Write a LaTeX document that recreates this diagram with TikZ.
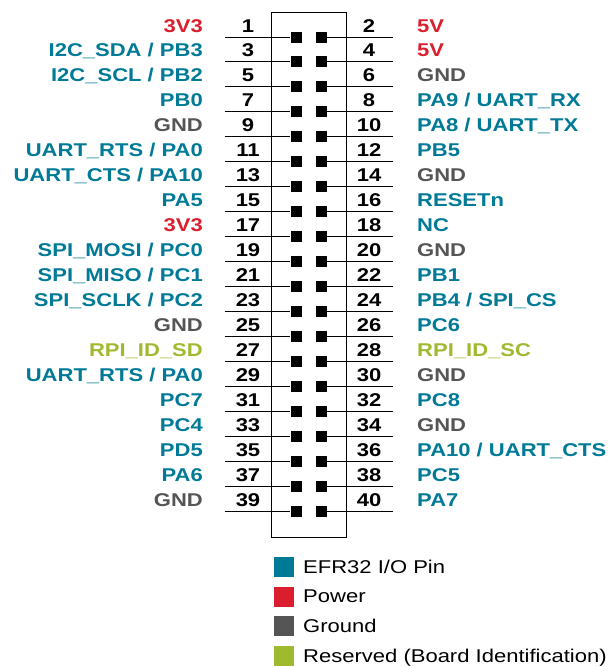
\documentclass[tikz,border=0pt]{standalone}
\usepackage{fontspec}
\setmainfont{Liberation Sans}[FakeStretch=1.19]
\definecolor{io}{RGB}{0,122,150}
\definecolor{pw}{RGB}{218,30,45}
\definecolor{gd}{RGB}{85,85,85}
\definecolor{rs}{RGB}{160,186,48}
\begin{document}
\begin{tikzpicture}[x=1pt,y=-1pt,
  lbl/.style={font=\fontsize{18.5}{20}\selectfont\bfseries, inner sep=0pt},
  num/.style={lbl, text=black, anchor=base},
  pinsq/.style={fill=black, minimum size=11pt, inner sep=0pt},
  lead/.style={line width=1pt},
  legsq/.style={minimum size=20pt, inner sep=0pt},
  legtxt/.style={font=\fontsize{18.5}{20}\selectfont, inner sep=0pt, anchor=base west}]
\useasboundingbox (0,0) rectangle (615,667);
\node[draw, line width=1pt, minimum width=75pt, minimum height=525pt, inner sep=0pt, anchor=north west] (box) at (271,12) {};
\foreach \lt/\lc/\rt/\rc [count=\c from 0] in {
  3V3/pw/5V/pw,
  {I2C\_SDA / PB3}/io/5V/pw,
  {I2C\_SCL / PB2}/io/GND/gd,
  PB0/io/{PA9 / UART\_RX}/io,
  GND/gd/{PA8 / UART\_TX}/io,
  {UART\_RTS / PA0}/io/PB5/io,
  {UART\_CTS / PA10}/io/GND/gd,
  PA5/io/RESETn/io,
  3V3/pw/NC/io,
  {SPI\_MOSI / PC0}/io/GND/gd,
  {SPI\_MISO / PC1}/io/PB1/io,
  {SPI\_SCLK / PC2}/io/{PB4 / SPI\_CS}/io,
  GND/gd/PC6/io,
  RPI\_ID\_SD/rs/RPI\_ID\_SC/rs,
  {UART\_RTS / PA0}/io/GND/gd,
  PC7/io/PC8/io,
  PC4/io/GND/gd,
  PD5/io/{PA10 / UART\_CTS}/io,
  PA6/io/PC5/io,
  GND/gd/PA7/io}{
  \pgfmathsetmacro\yy{37+24.97*\c}
  \pgfmathtruncatemacro\o{2*\c+1}
  \pgfmathtruncatemacro\e{2*\c+2}
  \node[pinsq] (pl\o) at (296,\yy) {};
  \node[pinsq] (pr\e) at (321,\yy) {};
  \coordinate (al\o) at (225,\yy);
  \coordinate (ar\e) at (393,\yy);
  \draw[lead] (al\o) -- (pl\o.west);
  \draw[lead] (pr\e.east) -- (ar\e);
  \node[num] (nl\o) at (248,\yy-5) {\o};
  \node[num] (nr\e) at (369,\yy-5) {\e};
  \node[lbl, anchor=base east, text=\lc] (ll\o) at (203,\yy-5) {\lt};
  \node[lbl, anchor=base west, text=\rc] (lr\e) at (417,\yy-5) {\rt};
}
\foreach \t/\cl [count=\j from 0] in {{EFR32 I/O Pin}/io, Power/pw, Ground/gd, Reserved (Board Identification)/rs}{
  \pgfmathsetmacro\ly{567+29.7*\j}
  \node[legsq, fill=\cl] (sq\j) at (284,\ly) {};
  \node[legtxt] (lt\j) at (303,\ly+6) {\t};
}
\end{tikzpicture}
\end{document}
